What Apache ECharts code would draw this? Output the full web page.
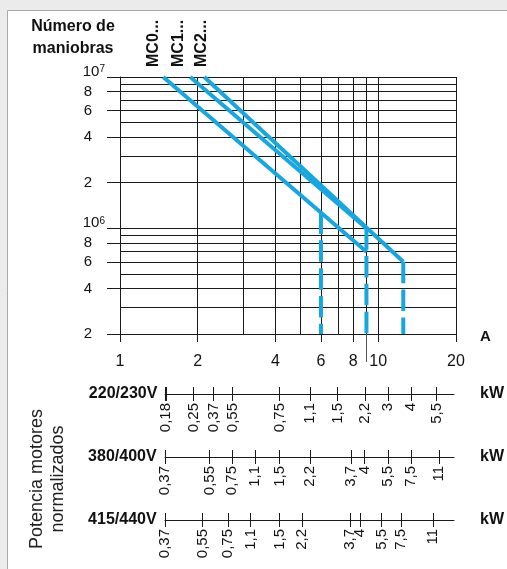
<!DOCTYPE html>
<html>
<head>
<meta charset="utf-8">
<script src="https://cdn.jsdelivr.net/npm/echarts@6/dist/echarts.min.js"></script>
<style>
  html, body { margin: 0; padding: 0; background: #ebebeb; }
  #chart { width: 507px; height: 569px; }
</style>
</head>
<body>
<div id="chart"></div>
<script>
// Número de maniobras vs. corriente cortada (A), escala log-log
const currentTicks = [1, 2, 4, 6, 8, 10, 20];
const currentGrid = [1, 2, 3, 4, 5, 6, 7, 8, 9, 10, 20];
const currentLongTick = [9];
const cycleTicks = [2e5, 4e5, 6e5, 8e5, 1e6, 2e6, 4e6, 6e6, 8e6, 1e7];
const cycleGrid = [2e5, 3e5, 4e5, 5e5, 6e5, 7e5, 8e5, 9e5,
                   1e6, 2e6, 3e6, 4e6, 5e6, 6e6, 7e6, 8e6, 9e6, 1e7];

// Curvas de durabilidad por calibre (A, maniobras)
const curveMC0 = [[1.47, 1e7], [9, 7e5]];
const curveMC1 = [[1.87, 1e7], [9, 1e6]];
const curveMC2 = [[2.12, 1e7], [12.5, 6e5]];
// Límites de corriente (tramos discontinuos)
const limit6 = [[6, 1.27e6], [6, 2e5]];
const limit9 = [[9, 1e6], [9, 2e5]];
const limit12 = [[12.5, 6e5], [12.5, 2e5]];

const seriesNames = ['MC0...', 'MC1...', 'MC2...'];

// Potencia de motores normalizados: etiqueta kW y corriente equivalente (A)
const kw230Labels = ['0,18', '0,25', '0,37', '0,55', '0,75', '1,1', '1,5', '2,2', '3', '4', '5,5'];
const kw230Amps   = [1.50, 1.92, 2.30, 2.72, 4.14, 5.44, 6.94, 8.89, 10.88, 13.39, 16.84];
const kw400Labels = ['0,37', '0,55', '0,75', '1,1', '1,5', '2,2', '3,7', '4', '5,5', '7,5', '11'];
const kw400Amps   = [1.49, 2.22, 2.71, 3.33, 4.14, 5.44, 7.84, 8.83, 10.88, 13.39, 17.23];
const kw440Labels = ['0,37', '0,55', '0,75', '1,1', '1,5', '2,2', '3,7', '4', '5,5', '7,5', '11'];
const kw440Amps   = [1.49, 2.08, 2.61, 3.20, 4.14, 5.05, 7.77, 8.50, 10.31, 12.25, 16.34];
const voltageRows = ['220/230V', '380/400V', '415/440V'];

const FONT = "'Liberation Sans', Arial, Helvetica, sans-serif";
const BLUE = '#17a7e0';
const INK = '#1a1a1a';
const X_MIN = 1, X_MAX = 20, Y_MIN = 2e5, Y_MAX = 1e7;
const KW_MIN = 1.49, KW_MAX = 19.65;
// a little slack so ticks sitting exactly on the ends survive rounding of the log extent
const lo = v => v * (1 - 1e-4);
const hi = v => v * (1 + 1e-4);

const isDecade = v => Math.abs(Math.log10(v) - Math.round(Math.log10(v))) < 1e-6;
const cycleDigitLabels = cycleTicks.filter(v => !isDecade(v));
const cycleDecadeLabels = cycleTicks.filter(isDecade);

const chart = echarts.init(document.getElementById('chart'), null, { renderer: 'canvas' });

function nearestLabel(values, labels, v) {
  let best = 0, bd = Infinity;
  values.forEach((a, i) => { const d = Math.abs(Math.log(a) - Math.log(v)); if (d < bd) { bd = d; best = i; } });
  return labels[best];
}

const exponent = v => Math.round(Math.log10(v));
const mantissa = v => Math.round(v / Math.pow(10, Math.floor(Math.log10(v) + 1e-6)));

const grids = [
  { left: 120, right: 51, top: 77, bottom: 235, outerBoundsMode: 'none' },
  { left: 165, right: 53, top: 393, height: 1, outerBoundsMode: 'none' },
  { left: 165, right: 53, top: 456, height: 1, outerBoundsMode: 'none' },
  { left: 165, right: 53, top: 519, height: 1, outerBoundsMode: 'none' }
];

const mainX = { gridIndex: 0, type: 'log', min: lo(X_MIN), max: hi(X_MAX), position: 'bottom' };
const mainY = { gridIndex: 0, type: 'log', min: lo(Y_MIN), max: hi(Y_MAX), position: 'left' };

const xAxes = [
  Object.assign({}, mainX, { // retícula vertical
    axisLine: { show: true, lineStyle: { color: INK, width: 1 } },
    axisTick: { show: false, customValues: currentGrid },
    axisLabel: { show: false, customValues: currentGrid },
    splitLine: { show: true, lineStyle: { color: INK, width: 1 } }
  }),
  Object.assign({}, mainX, { // marcas y números del eje de corriente
    axisLine: { show: false },
    axisTick: { show: true, customValues: currentTicks, length: 8, lineStyle: { color: INK } },
    axisLabel: { show: true, customValues: currentTicks, margin: 20, color: '#111',
                 fontFamily: FONT, fontSize: 16, formatter: v => String(Math.round(v)) },
    splitLine: { show: false },
    name: 'A', nameLocation: 'end', nameGap: 24,
    nameTextStyle: { fontFamily: FONT, fontWeight: 'bold', fontSize: 15, color: '#111',
                     verticalAlign: 'top', lineHeight: 6 }
  }),
  Object.assign({}, mainX, { // marca prolongada en 9 A
    axisLine: { show: false },
    axisTick: { show: true, customValues: currentLongTick, length: 28, lineStyle: { color: '#555' } },
    axisLabel: { show: false },
    splitLine: { show: false }
  })
];

const yAxes = [
  Object.assign({}, mainY, { // retícula horizontal
    axisLine: { show: true, lineStyle: { color: INK } },
    axisTick: { show: false, customValues: cycleGrid },
    axisLabel: { show: false, customValues: cycleGrid },
    splitLine: { show: true, lineStyle: { color: INK, width: 1 } }
  }),
  Object.assign({}, mainY, { // marcas y dígitos 2, 4, 6, 8
    axisLine: { show: false },
    axisTick: { show: true, customValues: cycleTicks, length: 13, lineStyle: { color: INK } },
    axisLabel: {
      show: true, customValues: cycleDigitLabels, margin: 28, formatter: v => String(mantissa(v)),
      fontFamily: FONT, fontSize: 15, color: '#111'
    },
    splitLine: { show: false }
  }),
  Object.assign({}, mainY, { // potencias de diez 10⁶, 10⁷
    axisLine: { show: false },
    axisTick: { show: false },
    axisLabel: {
      show: true, customValues: cycleDecadeLabels, margin: 15, padding: [0, 0, 10, 0],
      formatter: v => '{p|10}{s|' + exponent(v) + '}',
      rich: {
        p: { fontFamily: FONT, fontSize: 15, lineHeight: 15, color: '#111', verticalAlign: 'bottom' },
        s: { fontFamily: FONT, fontSize: 10, lineHeight: 10, color: '#111', verticalAlign: 'top' }
      }
    },
    splitLine: { show: false }
  })
];

const rows = [
  [kw230Labels, kw230Amps],
  [kw400Labels, kw400Amps],
  [kw440Labels, kw440Amps]
];

rows.forEach(([labels, amps], i) => {
  const g = i + 1;
  const ticks = amps[0] > KW_MIN + 0.005 ? [KW_MIN].concat(amps) : amps;
  const base = { gridIndex: g, type: 'log', min: lo(KW_MIN), max: hi(KW_MAX), position: 'bottom' };
  xAxes.push(Object.assign({}, base, {
    axisLine: { show: true, lineStyle: { color: INK, width: 1 } },
    axisTick: { show: true, customValues: ticks, length: 7, lineStyle: { color: INK } },
    axisLabel: {
      show: true, customValues: amps, rotate: 90, margin: 9,
      fontFamily: FONT, fontSize: 15, color: '#111',
      formatter: v => nearestLabel(amps, labels, v)
    },
    splitLine: { show: false },
    name: voltageRows[i], nameLocation: 'start', nameGap: 5,
    nameTextStyle: { fontFamily: FONT, fontWeight: 'bold', fontSize: 16, color: '#111',
                     verticalAlign: 'middle' }
  }));
  xAxes.push(Object.assign({}, base, {
    axisLine: { show: false },
    axisTick: { show: true, inside: true, customValues: ticks, length: 7,
                lineStyle: { color: INK } },
    axisLabel: { show: false },
    splitLine: { show: false },
    name: 'kW', nameLocation: 'end', nameGap: 26,
    nameTextStyle: { fontFamily: FONT, fontWeight: 'bold', fontSize: 16, color: '#111',
                     verticalAlign: 'middle' }
  }));
  yAxes.push({
    gridIndex: g, type: 'value', min: 0, max: 1, position: 'left',
    axisLine: { show: false }, axisTick: { show: false },
    axisLabel: { show: false }, splitLine: { show: false }
  });
});

function curve(name, data, dashed) {
  return {
    name, type: 'line', xAxisIndex: 0, yAxisIndex: 0, data,
    showSymbol: false, symbol: 'none', silent: true, z: 5,
    lineStyle: { color: BLUE, width: 4, cap: 'butt',
                 type: dashed ? [21.5, 6.3] : 'solid' }
  };
}

const option = {
  animation: false,
  backgroundColor: '#ebebeb',
  grid: grids,
  xAxis: xAxes,
  yAxis: yAxes,
  series: [
    curve(seriesNames[0], curveMC0, false),
    curve(seriesNames[1], curveMC1, false),
    curve(seriesNames[2], curveMC2, false),
    curve('6 A', limit6, true),
    curve('9 A', limit9, true),
    curve('12,5 A', limit12, true)
  ],
  graphic: [
    { type: 'rect', z: -10, silent: true,
      shape: { x: 7.5, y: 10.5, width: 620, height: 620 },
      style: { fill: '#ffffff', stroke: '#a9a9a9', lineWidth: 1 } },
    { type: 'text', x: 73, y: 16, silent: true,
      style: { text: 'Número de\nmaniobras', textAlign: 'center', textVerticalAlign: 'top',
               font: 'bold 16px ' + FONT, lineHeight: 22, fill: '#111' } },
    { type: 'text', x: 153.5, y: 67, rotation: Math.PI / 2, silent: true,
      style: { text: seriesNames[0], textAlign: 'left', textVerticalAlign: 'middle',
               font: 'bold 16px ' + FONT, fill: '#111' } },
    { type: 'text', x: 178.5, y: 67, rotation: Math.PI / 2, silent: true,
      style: { text: seriesNames[1], textAlign: 'left', textVerticalAlign: 'middle',
               font: 'bold 16px ' + FONT, fill: '#111' } },
    { type: 'text', x: 201.5, y: 67, rotation: Math.PI / 2, silent: true,
      style: { text: seriesNames[2], textAlign: 'left', textVerticalAlign: 'middle',
               font: 'bold 16px ' + FONT, fill: '#111' } },
    { type: 'text', x: 48, y: 479, rotation: Math.PI / 2, silent: true,
      style: { text: 'Potencia motores\nnormalizados', textAlign: 'center',
               textVerticalAlign: 'middle', font: '18px ' + FONT, lineHeight: 21, fill: '#222' } }
  ]
};

chart.setOption(option);
</script>
</body>
</html>
